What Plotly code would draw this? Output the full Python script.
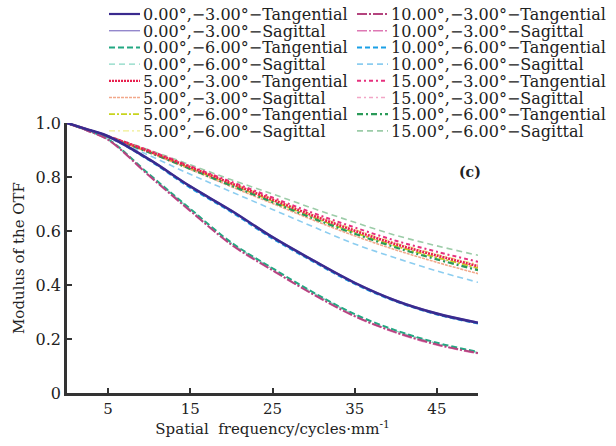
import plotly.graph_objects as go

freq = [0, 2.5, 5, 10, 15, 20, 25, 30, 35, 40, 45, 50]

names = [
    "0.00°,−3.00°−Tangential", "0.00°,−3.00°−Sagittal",
    "0.00°,−6.00°−Tangential", "0.00°,−6.00°−Sagittal",
    "5.00°,−3.00°−Tangential", "5.00°,−3.00°−Sagittal",
    "5.00°,−6.00°−Tangential", "5.00°,−6.00°−Sagittal",
    "10.00°,−3.00°−Tangential", "10.00°,−3.00°−Sagittal",
    "10.00°,−6.00°−Tangential", "10.00°,−6.00°−Sagittal",
    "15.00°,−3.00°−Tangential", "15.00°,−3.00°−Sagittal",
    "15.00°,−6.00°−Tangential", "15.00°,−6.00°−Sagittal",
]

mtf_0_3_T = [1.0, 0.976, 0.951, 0.865, 0.765, 0.675, 0.577, 0.490, 0.408, 0.342, 0.294, 0.260]
mtf_0_3_S = [1.0, 0.976, 0.952, 0.867, 0.767, 0.677, 0.579, 0.492, 0.410, 0.344, 0.296, 0.262]
mtf_0_6_T = [1.0, 0.972, 0.940, 0.810, 0.682, 0.557, 0.462, 0.372, 0.292, 0.232, 0.186, 0.152]
mtf_0_6_S = [1.0, 0.972, 0.939, 0.808, 0.680, 0.555, 0.460, 0.370, 0.290, 0.230, 0.184, 0.150]
mtf_5_3_T = [1.0, 0.975, 0.950, 0.895, 0.836, 0.776, 0.716, 0.656, 0.601, 0.551, 0.509, 0.470]
mtf_5_3_S = [1.0, 0.974, 0.948, 0.890, 0.828, 0.764, 0.702, 0.640, 0.582, 0.530, 0.484, 0.442]
mtf_5_6_T = [1.0, 0.975, 0.949, 0.893, 0.833, 0.772, 0.711, 0.650, 0.594, 0.544, 0.502, 0.463]
mtf_5_6_S = [1.0, 0.975, 0.950, 0.896, 0.838, 0.779, 0.720, 0.660, 0.606, 0.556, 0.514, 0.476]
mtf_10_3_T = [1.0, 0.971, 0.938, 0.805, 0.675, 0.550, 0.455, 0.365, 0.285, 0.225, 0.180, 0.148]
mtf_10_3_S = [1.0, 0.971, 0.937, 0.803, 0.673, 0.548, 0.453, 0.363, 0.283, 0.223, 0.178, 0.146]
mtf_10_6_T = [1.0, 0.976, 0.950, 0.862, 0.760, 0.670, 0.572, 0.486, 0.404, 0.339, 0.291, 0.257]
mtf_10_6_S = [1.0, 0.973, 0.945, 0.880, 0.810, 0.745, 0.680, 0.615, 0.552, 0.500, 0.452, 0.410]
mtf_15_3_T = [1.0, 0.976, 0.951, 0.898, 0.840, 0.782, 0.724, 0.666, 0.613, 0.564, 0.523, 0.486]
mtf_15_3_S = [1.0, 0.975, 0.949, 0.893, 0.832, 0.771, 0.710, 0.650, 0.594, 0.544, 0.500, 0.460]
mtf_15_6_T = [1.0, 0.974, 0.948, 0.891, 0.830, 0.768, 0.707, 0.646, 0.590, 0.539, 0.495, 0.455]
mtf_15_6_S = [1.0, 0.976, 0.952, 0.900, 0.845, 0.790, 0.737, 0.683, 0.632, 0.584, 0.545, 0.510]

series = [mtf_0_3_T, mtf_0_3_S, mtf_0_6_T, mtf_0_6_S, mtf_5_3_T, mtf_5_3_S, mtf_5_6_T, mtf_5_6_S,
          mtf_10_3_T, mtf_10_3_S, mtf_10_6_T, mtf_10_6_S, mtf_15_3_T, mtf_15_3_S, mtf_15_6_T, mtf_15_6_S]

colors = ["#3a2a8e", "#9488cc", "#22a882", "#86d8c4", "#e8204e", "#f2a88a", "#c8d41e", "#f0ee90",
          "#b4447e", "#de78b4", "#1aa0e6", "#8ccdf0", "#e6307e", "#f2a6c6", "#2a9a58", "#9ccca8"]
dashes = ["solid", "solid", "6px,3px", "6px,4px", "2px,1px", "3px,1px", "6px,2px,2px,2px", "6px,3px,2px,3px",
          "10px,2px,2px,2px", "10px,2px,2px,2px", "5px,3px", "6px,4px", "4px,3px,2px,3px", "4px,3px,2px,3px",
          "6px,3px,2px,3px", "6px,4px"]
widths = [2.6, 1.4, 2.0, 1.4, 2.6, 1.6, 1.8, 1.4, 1.8, 1.6, 2.0, 1.6, 2.0, 1.4, 2.2, 1.6]

FONT = "DejaVu Serif"

fig = go.Figure()
draw_order = [11, 15, 13, 5, 7, 6, 14, 12, 4, 3, 2, 9, 8, 1, 10, 0]
for i in draw_order:
    fig.add_trace(go.Scatter(x=freq, y=series[i], mode="lines", name=names[i],
                             line=dict(color=colors[i], dash=dashes[i], width=widths[i], shape="spline"),
                             showlegend=False))

# custom legend (two columns of 8 rows), built from the series styles
W, H = 616, 446
L, R, T, B = 67, 138, 123, 53
pw, ph = W - L - R, H - T - B
def px(x):
    return (x - L) / pw
def py(y):
    return (H - B - y) / ph

shapes = []
annotations = []
for i, name in enumerate(names):
    col, row = divmod(i, 8)
    yc = 14 + 16.7 * row
    x0, x1 = (109, 140) if col == 0 else (357, 388)
    shapes.append(dict(type="line", xref="paper", yref="paper", x0=px(x0), x1=px(x1), y0=py(yc), y1=py(yc),
                       line=dict(color=colors[i], dash=dashes[i], width=min(widths[i], 2.2))))
    annotations.append(dict(text=name, xref="paper", yref="paper", x=px(x1 + 1), y=py(yc + 0.5),
                            xanchor="left", yanchor="middle", showarrow=False,
                            font=dict(family=FONT, size=16, color="#222")))

annotations.append(dict(text="<b>(c)</b>", xref="paper", yref="paper", x=px(470), y=py(172),
                        xanchor="center", yanchor="middle", showarrow=False,
                        font=dict(family=FONT, size=14, color="#222")))

x_ticks = [5, 15, 25, 35, 45]
y_ticks = [0, 0.2, 0.4, 0.6, 0.8, 1.0]
y_tick_text = ["0", "0.2", "0.4", "0.6", "0.8", "1.0"]

fig.update_layout(
    width=W, height=H,
    margin=dict(l=L, r=R, t=T, b=B),
    paper_bgcolor="white", plot_bgcolor="white",
    font=dict(family=FONT, size=15, color="#222"),
    shapes=shapes, annotations=annotations,
    xaxis=dict(range=[0, 50], tickvals=x_ticks, ticks="inside", ticklen=5, tickwidth=1.5, tickcolor="#333",
               showline=True, linecolor="#333", linewidth=2.5, showgrid=False, zeroline=False,
               tickfont=dict(size=15),
               title=dict(text="Spatial\u00a0 frequency/cycles·mm<sup>-1</sup>", font=dict(size=15), standoff=4)),
    yaxis=dict(range=[0, 1.0], tickvals=y_ticks, ticktext=y_tick_text, ticks="inside", ticklen=5,
               tickwidth=1.5, tickcolor="#333",
               showline=True, linecolor="#333", linewidth=2.5, showgrid=False, zeroline=False,
               tickfont=dict(size=16),
               title=dict(text="Modulus of the OTF", font=dict(size=15), standoff=8)),
)

fig.write_html("out.html", config={"displayModeBar": False},
               post_script="document.body.style.margin='0px';")
